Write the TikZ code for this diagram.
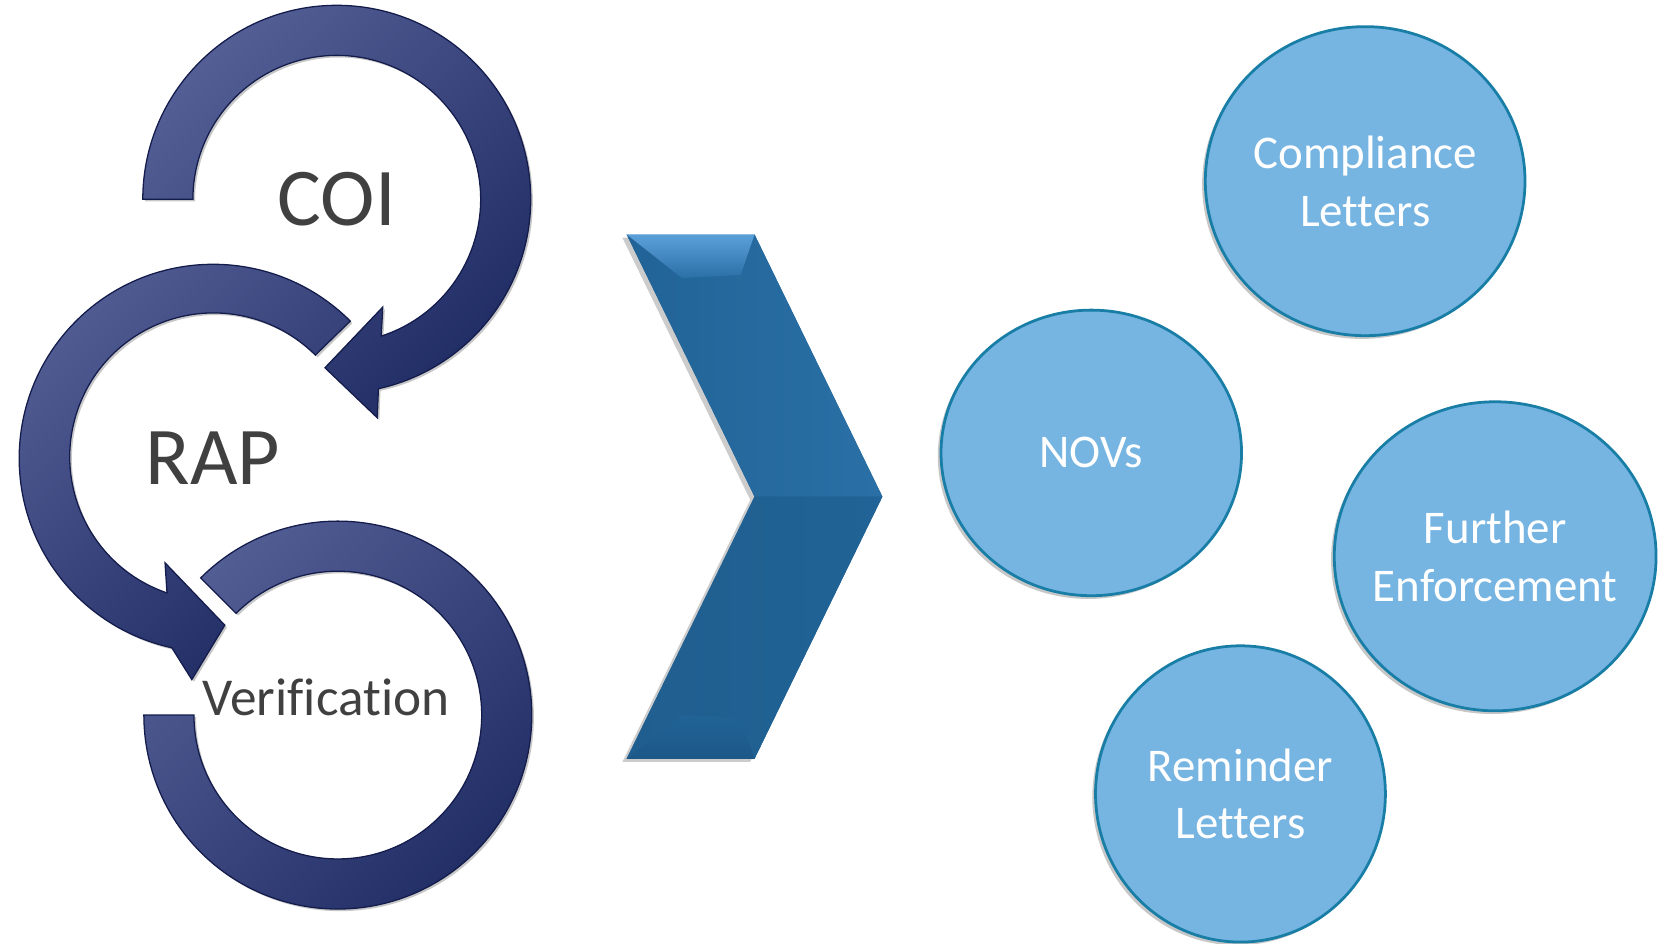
\documentclass[tikz,border=0pt]{standalone}
\usepackage{fontspec}
\setmainfont{Carlito}[Ligatures=NoCommon]
\usetikzlibrary{calc,shadows}

\definecolor{ringlight}{RGB}{82,94,148}
\definecolor{ringdark}{RGB}{32,44,100}
\definecolor{ringline}{RGB}{20,28,76}
\definecolor{labelgray}{RGB}{64,64,64}
\definecolor{chevmain}{RGB}{33,99,150}
\definecolor{chevlight}{RGB}{42,112,166}
\definecolor{chevtop}{RGB}{92,160,218}
\definecolor{chevlow}{RGB}{28,88,136}
\definecolor{bubblefill}{RGB}{118,180,226}
\definecolor{bubbleline}{RGB}{24,126,166}

\tikzset{
  ring/.style={draw=ringline, line width=1.2pt, line join=miter,
    top color=ringlight, bottom color=ringdark, shading angle=45,
    drop shadow={shadow xshift=2pt, shadow yshift=-2pt, opacity=0.22, fill=black}},
  bubble/.style={fill=bubblefill, draw=bubbleline, line width=2.6pt,
    drop shadow={shadow xshift=-3pt, shadow yshift=-3pt, opacity=0.22, fill=black}},
  steplabel/.style={text=labelgray, anchor=base, inner sep=0pt},
  bubbletext/.style={text=white, align=center, inner sep=0pt,
    font=\fontsize{44}{54}\selectfont},
}

\begin{document}
\begin{tikzpicture}[x=1pt, y=-1pt]
  \useasboundingbox (0,0) rectangle (1568,885);

  % ring centres
  \coordinate (c1) at (316,187);
  \coordinate (c2) at (200,430);
  \coordinate (c3) at (317,671);

  % Verification ring: open band, no head
  \path[ring] ($(c3)+(225:182)$) arc[start angle=225, end angle=540, radius=182]
    -- ($(c3)+(540:135)$) arc[start angle=540, end angle=225, radius=135] -- cycle;

  % RAP ring: runs anticlockwise, head points right at the bottom
  \path[ring] ($(c2)+(-45:182)$) arc[start angle=-45, end angle=-257.7, radius=182]
    -- ($(c2)+(-264.5:208.7)$) -- ($(c2)+(-274:157)$) -- ($(c2)+(-245.3:108)$)
    -- ($(c2)+(-251.1:133.6)$) arc[start angle=-251.1, end angle=-45, radius=135] -- cycle;

  % COI ring: runs clockwise, head points left at the bottom
  \path[ring] ($(c1)+(180:182)$) arc[start angle=180, end angle=437.6, radius=182]
    -- ($(c1)+(439.5:208.5)$) -- ($(c1)+(454:158.5)$) -- ($(c1)+(426.9:110)$)
    -- ($(c1)+(432:135)$) arc[start angle=432, end angle=180, radius=135] -- cycle;

  \node[steplabel, font=\fontsize{77}{90}\selectfont] (coi) at (316,212) {COI};
  \node[steplabel, font=\fontsize{77}{90}\selectfont] (rap) at (200,455) {RAP};
  \node[steplabel, font=\fontsize{50}{60}\selectfont] (ver) at (306,671) {Verification};

  % chevron
  \coordinate (ch1) at (588,220);
  \coordinate (ch2) at (708,220);
  \coordinate (ch3) at (828,466);
  \coordinate (ch4) at (708,712);
  \coordinate (ch5) at (588,712);
  \coordinate (ch6) at (708,466);
  \fill[chevmain, drop shadow={shadow xshift=-4pt, shadow yshift=-3pt, opacity=0.2, fill=black}]
    (ch1) -- (ch2) -- (ch3) -- (ch4) -- (ch5) -- (ch6) -- cycle;
  \shade[left color=chevmain, right color=chevlight] (ch1) -- (ch2) -- (ch3) -- (ch6) -- cycle;
  \shade[left color=chevmain!95!black, right color=chevmain] (ch6) -- (ch3) -- (ch4) -- (ch5) -- cycle;
  % bevelled top and bottom faces
  \shade[top color=chevtop, bottom color=chevlight] (ch1) -- (ch2) -- (695,258) -- (640,261) -- cycle;
  \shade[top color=chevmain, bottom color=chevlow] (ch5) -- (ch4) -- (695,674) -- (640,671) -- cycle;
  \draw[chevtop!70!white, line width=1pt] (ch1) -- (ch2);

  % outcome bubbles
  \coordinate (b1) at (1281,170);
  \coordinate (b2) at (1024,425);
  \coordinate (b3) at (1403,522);
  \coordinate (b4) at (1164,745);
  \path[bubble] (b1) ellipse[x radius=150, y radius=145];
  \path[bubble] (b2) ellipse[x radius=141, y radius=134];
  \path[bubble] (b3) ellipse[x radius=151, y radius=145];
  \path[bubble] (b4) ellipse[x radius=136, y radius=139];

  \node[bubbletext] (t1) at (b1) {Compliance\\Letters};
  \node[bubbletext] (t2) at (b2) {NOVs};
  \node[bubbletext] (t3) at (b3) {Further\\Enforcement};
  \node[bubbletext] (t4) at (b4) {Reminder\\Letters};
\end{tikzpicture}
\end{document}
